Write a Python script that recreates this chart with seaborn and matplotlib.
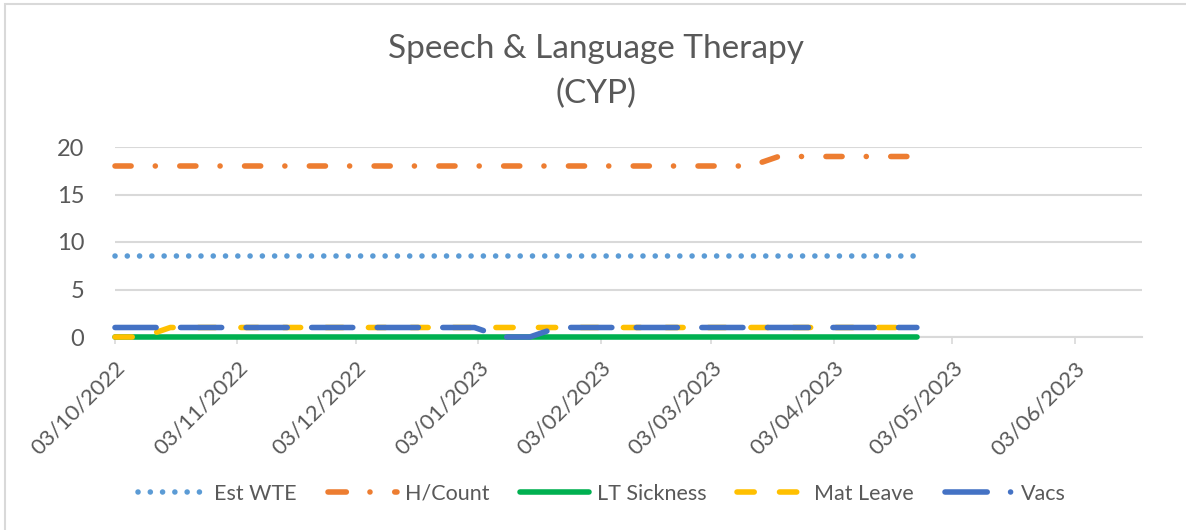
import matplotlib
matplotlib.use("Agg")
import matplotlib.pyplot as plt
import matplotlib.dates as mdates
from matplotlib.patches import Rectangle
from matplotlib.lines import Line2D
import pandas as pd
import seaborn as sns

# ---------------- data ----------------
week_dates = [
    "2022-10-03", "2022-10-10", "2022-10-17", "2022-10-24", "2022-10-31",
    "2022-11-07", "2022-11-14", "2022-11-21", "2022-11-28", "2022-12-05",
    "2022-12-12", "2022-12-19", "2022-12-26", "2023-01-02", "2023-01-09",
    "2023-01-16", "2023-01-23", "2023-01-30", "2023-02-06", "2023-02-13",
    "2023-02-20", "2023-02-27", "2023-03-06", "2023-03-13", "2023-03-20",
    "2023-03-27", "2023-04-03", "2023-04-10", "2023-04-17", "2023-04-24",
]
est_wte = [8.5] * 30
h_count = [18, 18, 18, 18, 18, 18, 18, 18, 18, 18, 18, 18, 18, 18, 18,
           18, 18, 18, 18, 18, 18, 18, 18, 18, 19, 19, 19, 19, 19, 19]
lt_sickness = [0] * 30
mat_leave = [0, 0, 1, 1, 1, 1, 1, 1, 1, 1, 1, 1, 1, 1, 1,
             1, 1, 1, 1, 1, 1, 1, 1, 1, 1, 1, 1, 1, 1, 1]
vacs = [1, 1, 1, 1, 1, 1, 1, 1, 1, 1, 1, 1, 1, 1, 0,
        0, 1, 1, 1, 1, 1, 1, 1, 1, 1, 1, 1, 1, 1, 1]
series_names = ["Est WTE", "H/Count", "LT Sickness", "Mat Leave", "Vacs"]
tick_dates = ["2022-10-03", "2022-11-03", "2022-12-03", "2023-01-03", "2023-02-03",
              "2023-03-03", "2023-04-03", "2023-05-03", "2023-06-03"]
y_ticks = [0, 5, 10, 15, 20]
title_lines = ["Speech & Language Therapy", "(CYP)"]

# ---------------- style ----------------
sns.set_theme(style="white")
plt.rcParams["font.family"] = ["Lato", "DejaVu Sans"]
TXT = "#595959"
GRID = "#D9D9D9"
colors = ["#5B9BD5", "#ED7D31", "#00B050", "#FFC000", "#4472C4"]
lw = 4.0
styles = [
    (0, (0.01, 2.2)),                 # round dot
    (0, (2.9, 4.35, 0.01, 4.4)),      # long dash dot
    "solid",
    (0, (3.1, 4.55)),                 # dash
    (0, (7.4, 4.4)),                  # long dash
]
legend_styles = [
    (0, (0.01, 2.2)),
    (0, (3.3, 4.25, 0.01, 4.45)),
    "solid",
    (0, (3.1, 4.55)),
    (0, (7.6, 4.2, 0.01, 5.0)),
]

W, H = 1186, 530
fig = plt.figure(figsize=(W / 100, H / 100), dpi=100)
ax = fig.add_axes([115 / W, 1 - 337 / H, (1142 - 115) / W, (337 - 147) / H])

df = pd.DataFrame({
    "date": pd.to_datetime(week_dates),
    "Est WTE": est_wte,
    "H/Count": h_count,
    "LT Sickness": lt_sickness,
    "Mat Leave": mat_leave,
    "Vacs": vacs,
})

for name, c, ls in zip(series_names, colors, styles):
    sns.lineplot(data=df, x="date", y=name, ax=ax, color=c, linewidth=lw,
                 linestyle=ls, label=name, dash_capstyle="round",
                 solid_capstyle="round", zorder=3, clip_on=False)

# axes
ax.set_ylim(0, 20)
ax.set_yticks(y_ticks)
ax.set_xlim(pd.Timestamp("2022-10-03"), pd.Timestamp("2023-06-20"))
ax.set_xticks(pd.to_datetime(tick_dates))
ax.xaxis.set_major_formatter(mdates.DateFormatter("%d/%m/%Y"))
ax.set_xlabel("")
ax.set_ylabel("")
ax.grid(axis="y", color=GRID, linewidth=1.5, zorder=0)
ax.grid(axis="x", visible=False)
for s in ["top", "right", "left"]:
    ax.spines[s].set_visible(False)
ax.spines["bottom"].set_color(GRID)
ax.spines["bottom"].set_linewidth(1.5)
ax.spines["bottom"].set_zorder(1)
ax.tick_params(axis="y", length=0, pad=22, labelsize=17, labelcolor=TXT)
ax.tick_params(axis="x", length=5, width=1.2, color=GRID, direction="out",
               pad=10, labelsize=16, labelcolor=TXT, bottom=True)
for lab in ax.get_xticklabels():
    lab.set_rotation(45)
    lab.set_ha("right")
    lab.set_va("top")
    lab.set_rotation_mode("anchor")

# title
fig.text(596 / W, 1 - 58 / H, title_lines[0], ha="center", va="baseline",
         fontsize=24, color=TXT)
fig.text(596 / W, 1 - 103 / H, title_lines[1], ha="center", va="baseline",
         fontsize=24, color=TXT)

# legend (sample styles as in the chart's legend)
handles = [Line2D([], [], color=c, linewidth=lw, linestyle=ls,
                  dash_capstyle="round", solid_capstyle="round")
           for c, ls in zip(colors, legend_styles)]
ax.legend(handles, series_names, loc="center",
          bbox_to_anchor=(602 / W, 1 - 494 / H),
          bbox_transform=fig.transFigure, ncol=5, frameon=False,
          fontsize=15.5, labelcolor=TXT, handlelength=3.2, handletextpad=0.35,
          columnspacing=1.45)

# chart border
fig.patches.append(Rectangle((5 / W, -0.5), 2, 1 - 4 / H + 0.5,
                             transform=fig.transFigure, fill=False,
                             edgecolor=GRID, linewidth=1.5))

fig.savefig("out.png", dpi=100)
